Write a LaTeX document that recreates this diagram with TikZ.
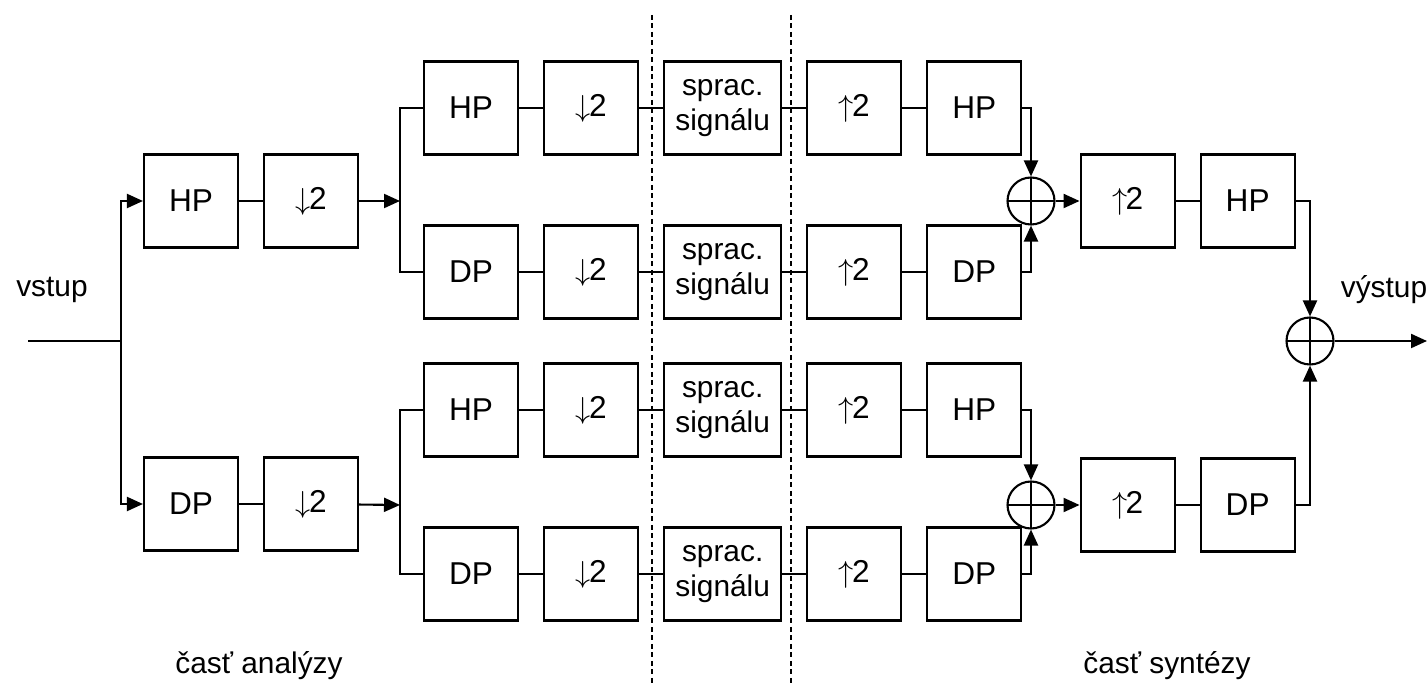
\documentclass[tikz,border=0pt]{standalone}
\usepackage{fontspec}
\setmainfont{Liberation Sans}
\usepackage{tikz}
\usetikzlibrary{arrows.meta, positioning}

\newcommand{\dn}{$\downarrow$\kern-1pt 2}
\newcommand{\upsmp}{$\uparrow$\kern-1pt 2}

\begin{document}
\begin{tikzpicture}[
    x=0.02cm, y=-0.02cm,
    node distance=0.48cm,
    line width=1.2pt,
    box/.style={draw, minimum width=1.88cm, minimum height=1.86cm, inner sep=0pt, align=center, font=\fontsize{18}{20}\selectfont},
    procbox/.style={box, minimum width=2.34cm, font=\fontsize{17}{19.5}\selectfont},
    sum/.style={draw, circle, minimum size=0.94cm, inner sep=0pt,
        path picture={\draw (path picture bounding box.north) -- (path picture bounding box.south)
                            (path picture bounding box.west) -- (path picture bounding box.east);}},
    label/.style={font=\fontsize{17}{20}\selectfont},
    line/.style={-{Triangle[length=0.32cm, width=0.28cm]}},
    sep/.style={line width=0.9pt, dash pattern=on 0.1cm off 0.07cm}
]
\useasboundingbox (0,0) rectangle (1427,685);

% Separators
\draw[sep] (652,15) -- (652,685);
\draw[sep] (791,15) -- (791,685);

% Analysis, first stage
\node[box] (hp1) at (191,201) {HP};
\node[box, right=of hp1] (down1) {\dn};
\node[box] (dp1) at (191,504) {DP};
\node[box, right=of dp1] (down2) {\dn};

% Rows of the second stage
\node[box] (filtA) at (471,108) {HP};
\node[box, right=of filtA] (downA) {\dn};
\node[procbox, right=of downA] (procA) {sprac.\\signálu};
\node[box, right=of procA] (upA) {\upsmp};
\node[box, right=of upA] (synA) {HP};

\node[box] (filtB) at (471,272) {DP};
\node[box, right=of filtB] (downB) {\dn};
\node[procbox, right=of downB] (procB) {sprac.\\signálu};
\node[box, right=of procB] (upB) {\upsmp};
\node[box, right=of upB] (synB) {DP};

\node[box] (filtC) at (471,410) {HP};
\node[box, right=of filtC] (downC) {\dn};
\node[procbox, right=of downC] (procC) {sprac.\\signálu};
\node[box, right=of procC] (upC) {\upsmp};
\node[box, right=of upC] (synC) {HP};

\node[box] (filtD) at (471,574) {DP};
\node[box, right=of filtD] (downD) {\dn};
\node[procbox, right=of downD] (procD) {sprac.\\signálu};
\node[box, right=of procD] (upD) {\upsmp};
\node[box, right=of upD] (synD) {DP};

% Synthesis, last stage
\node[sum] (sum1) at (1031,201) {};
\node[sum] (sum2) at (1031,505) {};
\node[box, right=of sum1] (up1) {\upsmp};
\node[box, right=of up1] (hp2) {HP};
\node[box, right=of sum2] (up2) {\upsmp};
\node[box, right=of up2] (dp2) {DP};
\node[sum] (sumout) at (1310,341) {};

% Junctions
\coordinate (in) at (28,341);
\coordinate (fork) at (121,341);
\coordinate (forkA) at (400,201);
\coordinate (forkB) at (400,505);
\coordinate (out) at (1427,341);

% Texts
\node[label] (vstup) at (52,290) {vstup};
\node[label] (vystup) at (1384,290) {výstup};
\node[label] (analyza) at (259,666) {časť analýzy};
\node[label] (synteza) at (1167,666) {časť syntézy};

% Arrows
\draw (in) -- (fork);
\draw[line] (fork) |- (hp1);
\draw[line] (fork) |- (dp1);
\draw (hp1) -- (down1);
\draw (dp1) -- (down2);
\draw[line] (down1) -- (forkA);
\draw[line] (down2) -- (forkB);
\draw (forkA) |- (filtA);
\draw (forkA) |- (filtB);
\draw (forkB) |- (filtC);
\draw (forkB) |- (filtD);

\draw (filtA) -- (downA) -- (procA) -- (upA) -- (synA);
\draw (filtB) -- (downB) -- (procB) -- (upB) -- (synB);
\draw (filtC) -- (downC) -- (procC) -- (upC) -- (synC);
\draw (filtD) -- (downD) -- (procD) -- (upD) -- (synD);

\draw[line] (synA) -| (sum1);
\draw[line] (synB) -| (sum1);
\draw[line] (synC) -| (sum2);
\draw[line] (synD) -| (sum2);
\draw[line] (sum1) -- (up1);
\draw[line] (sum2) -- (up2);
\draw (up1) -- (hp2);
\draw (up2) -- (dp2);
\draw[line] (hp2) -| (sumout);
\draw[line] (dp2) -| (sumout);
\draw[line] (sumout) -- (out);

\end{tikzpicture}
\end{document}
